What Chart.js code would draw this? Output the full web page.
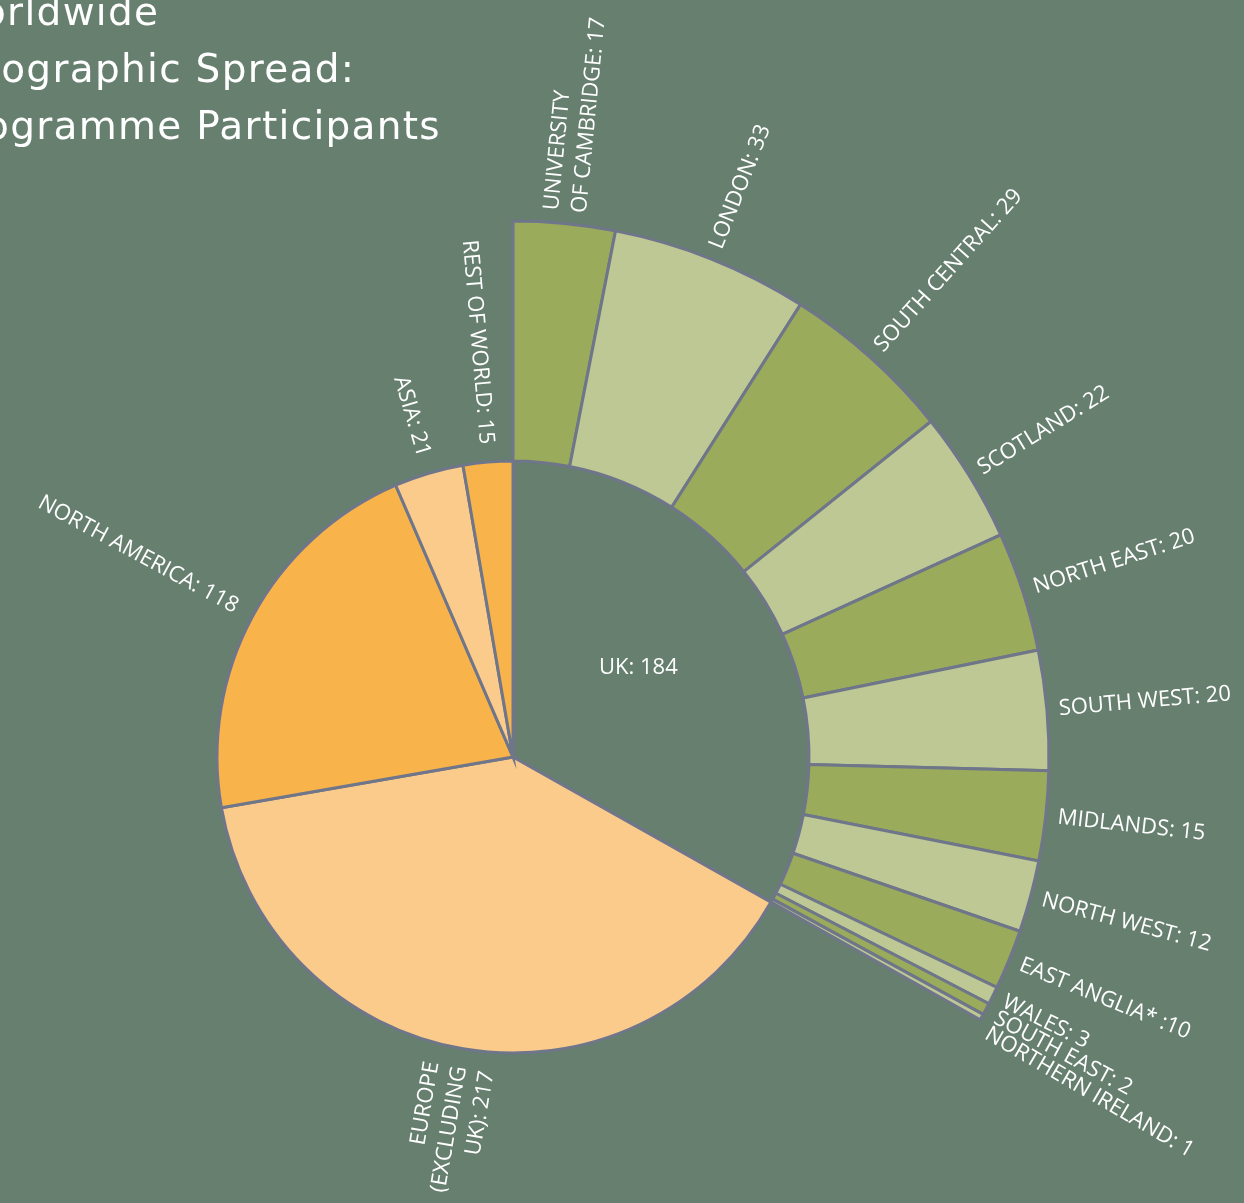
<!DOCTYPE html>
<html lang="en">
<head>
  <meta charset="UTF-8" />
  <title>Worldwide Geographic Spread: Programme Participants</title>
  <script src="https://cdn.jsdelivr.net/npm/chart.js"></script>
  <style>
    html, body {
      margin: 0;
      padding: 0;
      width: 1244px;
      height: 1203px;
      overflow: hidden;
      background: #667f6f;
    }
    #title {
      position: absolute;
      top: -17px;
      left: -60px;
      color: #ffffff;
      font-family: 'DejaVu Sans', sans-serif;
      font-size: 39px;
      letter-spacing: 1.3px;
      line-height: 57px;
      white-space: nowrap;
      z-index: 2;
    }
    #title span { display: inline-block; }
    #chart { position: absolute; left: 0; top: 0; }
  </style>
</head>
<body>
  <div id="title">
    <div><span>Worldwide</span></div>
    <div><span>Geographic Spread:</span></div>
    <div><span id="lastLine">Programme Participants</span></div>
  </div>
  <canvas id="chart" width="1244" height="1203"></canvas>

  <script>
    // world regions (inner pie)
    const regionNames = [['UK'], ['EUROPE', '(EXCLUDING', 'UK)'], ['NORTH AMERICA'], ['ASIA'], ['REST OF WORLD']];
    const regionValues = [184, 217, 118, 21, 15];

    // UK breakdown (outer ring, spans the UK slice only)
    const ukNames = [
      ['UNIVERSITY', 'OF CAMBRIDGE'], ['LONDON'], ['SOUTH CENTRAL'], ['SCOTLAND'],
      ['NORTH EAST'], ['SOUTH WEST'], ['MIDLANDS'], ['NORTH WEST'], ['EAST ANGLIA*'],
      ['WALES'], ['SOUTH EAST'], ['NORTHERN IRELAND']
    ];
    const ukValues = [17, 33, 29, 22, 20, 20, 15, 12, 10, 3, 2, 1];

    const BG = '#667f6f';
    const BORDER = '#6f768a';
    const GREEN_DARK = '#9aab5c';
    const GREEN_LIGHT = '#bec894';
    const ORANGE = '#f8b44a';
    const ORANGE_LIGHT = '#fbcb8c';

    const LABEL_FONT = '400 22px "Open Sans", sans-serif';
    const LINE_H = 28;

    // title is cut off at the left edge, line up where its last line ends
    const lastLine = document.getElementById('lastLine');
    document.getElementById('title').style.left = (441 - lastLine.getBoundingClientRect().width) + 'px';

    const total = regionValues.reduce((a, b) => a + b, 0);
    const ukSweep = regionValues[0] / total * 360;

    function labelLines(name, value) {
      const lines = name.slice();
      const sep = lines[lines.length - 1].endsWith('*') ? ' :' : ': ';
      lines[lines.length - 1] += sep + value;
      return lines;
    }

    function drawRadial(ctx, cx, cy, a, r, lines) {
      const left = Math.cos(a) < -1e-6;
      ctx.save();
      ctx.translate(cx + r * Math.cos(a), cy + r * Math.sin(a));
      ctx.rotate(left ? a + Math.PI : a);
      ctx.textAlign = left ? 'right' : 'left';
      lines.forEach((t, k) => {
        ctx.fillText(t, 0, (k - (lines.length - 1) / 2) * LINE_H);
      });
      ctx.restore();
    }

    const radialLabels = {
      id: 'radialLabels',
      afterDatasetsDraw(chart) {
        const ctx = chart.ctx;
        ctx.save();
        ctx.fillStyle = '#ffffff';
        ctx.font = LABEL_FONT;
        ctx.textBaseline = 'middle';

        // outer ring labels, pushed apart where slices are thin
        let prev = -Infinity;
        chart.getDatasetMeta(0).data.forEach((arc, i) => {
          const p = arc.getProps(['x', 'y', 'startAngle', 'endAngle', 'outerRadius'], true);
          const r = p.outerRadius + 12;
          let a = (p.startAngle + p.endAngle) / 2;
          const gap = 18 / r;
          if (a - prev < gap) a = prev + gap;
          prev = a;
          drawRadial(ctx, p.x, p.y, a, r, labelLines(ukNames[i], ukValues[i]));
        });

        // inner pie labels
        chart.getDatasetMeta(1).data.forEach((arc, i) => {
          const p = arc.getProps(['x', 'y', 'startAngle', 'endAngle', 'outerRadius'], true);
          const a = (p.startAngle + p.endAngle) / 2;
          const text = labelLines(regionNames[i], regionValues[i]);
          if (i === 0) {
            // UK sits inside its own slice
            const r = p.outerRadius * 0.52;
            ctx.textAlign = 'center';
            ctx.fillText(text[0], p.x + r * Math.cos(a - 0.09), p.y + r * Math.sin(a - 0.09));
          } else {
            drawRadial(ctx, p.x, p.y, a, p.outerRadius + 18, text);
          }
        });
        ctx.restore();
      }
    };

    new Chart(document.getElementById('chart'), {
      type: 'pie',
      data: {
        labels: ukNames.map(n => n.join(' ')),
        datasets: [
          {
            data: ukValues,
            circumference: ukSweep,
            rotation: 0,
            weight: 240,
            backgroundColor: ukValues.map((v, i) => i % 2 === 0 ? GREEN_DARK : GREEN_LIGHT),
            borderColor: BORDER,
            borderWidth: 3,
            borderJoinStyle: 'miter'
          },
          {
            data: regionValues,
            weight: 296,
            backgroundColor: [BG, ORANGE_LIGHT, ORANGE, ORANGE_LIGHT, ORANGE],
            borderColor: BORDER,
            borderWidth: 3,
            borderJoinStyle: 'miter'
          }
        ]
      },
      options: {
        responsive: false,
        animation: false,
        radius: 536,
        cutout: 0,
        layout: { padding: { left: 0, right: 218, top: 311, bottom: 0 } },
        plugins: {
          legend: { display: false },
          tooltip: { enabled: false }
        }
      },
      plugins: [radialLabels]
    });
  </script>
</body>
</html>
